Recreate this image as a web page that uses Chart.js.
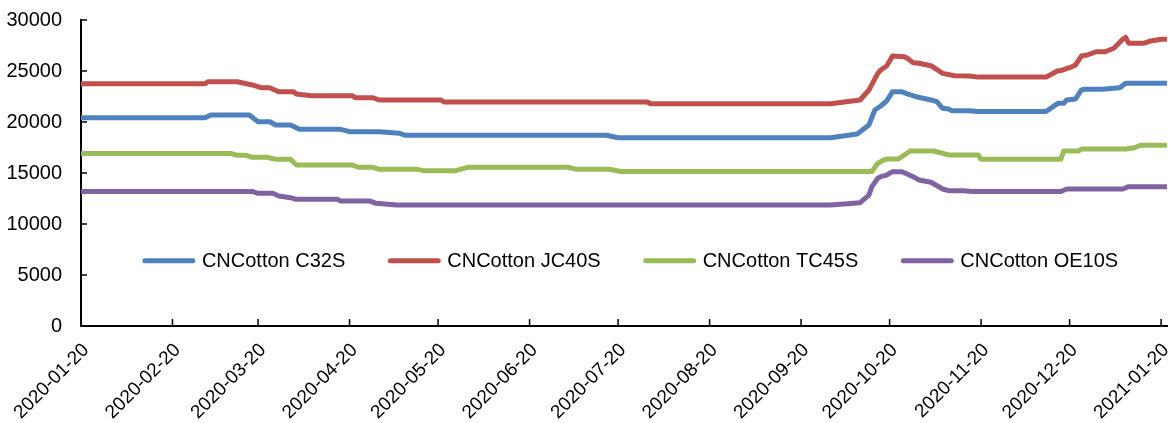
<!DOCTYPE html>
<html><head><meta charset="utf-8">
<script src="https://cdn.jsdelivr.net/npm/chart.js@4/dist/chart.umd.min.js"></script>
<style>html,body{margin:0;padding:0;background:#fff;}canvas{display:block;}</style>
</head><body>
<canvas id="c" width="1171" height="423"></canvas>
<script>
// ---- data ----
const tickLabels = ['2020-01-20','2020-02-20','2020-03-20','2020-04-20','2020-05-20','2020-06-20','2020-07-20','2020-08-20','2020-09-20','2020-10-20','2020-11-20','2020-12-20','2021-01-20'];
const yTicks = [0,5000,10000,15000,20000,25000,30000];
const seriesNames = ['CNCotton C32S','CNCotton JC40S','CNCotton TC45S','CNCotton OE10S'];

const c32Dates = ['2020-01-20','2020-03-02','2020-03-04','2020-03-17','2020-03-20','2020-03-24','2020-03-26','2020-03-31','2020-04-03','2020-04-17','2020-04-20','2020-04-30','2020-05-07','2020-05-09','2020-07-16','2020-07-20','2020-09-30','2020-10-09','2020-10-13','2020-10-15','2020-10-17','2020-10-19','2020-10-21','2020-10-24','2020-10-26','2020-10-29','2020-11-03','2020-11-05','2020-11-07','2020-11-09','2020-11-10','2020-11-16','2020-11-19','2020-12-12','2020-12-16','2020-12-18','2020-12-19','2020-12-22','2020-12-24','2020-12-25','2020-12-31','2021-01-06','2021-01-08','2021-01-22'];
const c32Values = [20420,20420,20690,20690,20030,20030,19710,19710,19280,19280,19050,19050,18890,18700,18700,18460,18460,18820,19710,21180,21570,22060,22970,22970,22750,22480,22160,21990,21340,21270,21110,21110,21030,21030,21830,21830,22160,22260,23140,23210,23210,23360,23790,23790];

const jc40Dates = ['2020-01-20','2020-03-02','2020-03-03','2020-03-13','2020-03-18','2020-03-21','2020-03-24','2020-03-27','2020-04-01','2020-04-02','2020-04-07','2020-04-21','2020-04-22','2020-04-28','2020-04-30','2020-05-21','2020-05-22','2020-07-30','2020-07-31','2020-09-30','2020-10-10','2020-10-13','2020-10-16','2020-10-17','2020-10-19','2020-10-21','2020-10-25','2020-10-26','2020-10-28','2020-10-30','2020-11-03','2020-11-07','2020-11-11','2020-11-16','2020-11-19','2020-12-12','2020-12-16','2020-12-17','2020-12-20','2020-12-22','2020-12-24','2020-12-26','2020-12-29','2021-01-01','2021-01-04','2021-01-07','2021-01-08','2021-01-09','2021-01-14','2021-01-16','2021-01-20','2021-01-22'];
const jc40Values = [23750,23750,23950,23950,23630,23360,23360,22970,22970,22750,22580,22580,22380,22380,22160,22160,21960,21960,21790,21790,22160,23140,24770,25100,25490,26470,26400,26250,25810,25760,25520,24770,24540,24510,24400,24400,25030,25030,25320,25590,26470,26570,26890,26890,27230,28110,28300,27720,27720,27910,28110,28110];

const tc45Dates = ['2020-01-20','2020-03-11','2020-03-13','2020-03-16','2020-03-18','2020-03-23','2020-03-26','2020-03-31','2020-04-02','2020-04-21','2020-04-23','2020-04-28','2020-04-30','2020-05-13','2020-05-15','2020-05-26','2020-05-30','2020-07-03','2020-07-06','2020-07-17','2020-07-21','2020-10-14','2020-10-16','2020-10-18','2020-10-19','2020-10-23','2020-10-27','2020-11-04','2020-11-09','2020-11-19','2020-11-20','2020-12-17','2020-12-18','2020-12-23','2020-12-24','2021-01-08','2021-01-11','2021-01-13','2021-01-22'];
const tc45Values = [16910,16910,16730,16730,16540,16540,16340,16340,15780,15780,15560,15560,15360,15360,15230,15230,15560,15560,15360,15360,15150,15150,15950,16270,16370,16370,17160,17160,16770,16770,16340,16340,17160,17160,17350,17350,17480,17720,17720];

const oe10Dates = ['2020-01-20','2020-03-18','2020-03-20','2020-03-25','2020-03-27','2020-03-31','2020-04-02','2020-04-16','2020-04-17','2020-04-27','2020-04-29','2020-05-06','2020-09-30','2020-10-10','2020-10-13','2020-10-14','2020-10-16','2020-10-17','2020-10-19','2020-10-21','2020-10-24','2020-10-26','2020-10-29','2020-10-30','2020-11-03','2020-11-07','2020-11-09','2020-11-14','2020-11-17','2020-12-17','2020-12-19','2021-01-07','2021-01-09','2021-01-22'];
const oe10Values = [13190,13190,13010,13010,12750,12580,12420,12420,12250,12250,12030,11860,11860,12090,12840,13660,14480,14640,14800,15130,15130,14900,14480,14310,14090,13430,13270,13270,13190,13190,13430,13430,13660,13660];

const seriesColors = ['#4F81BD','#C0504D','#9BBB59','#8064A2'];
const axisEnd = '2021-01-22';

// ---- helpers ----
const t0 = Date.UTC(2020,0,20);
function dayOf(s){const p=s.split('-').map(Number);return (Date.UTC(p[0],p[1]-1,p[2])-t0)/86400000;}
function pts(dates, vals){return dates.map((d,i)=>({x:dayOf(d), y:vals[i]}));}

const FONT = "'Liberation Sans', Arial, sans-serif";
Chart.defaults.font.family = FONT;
Chart.defaults.color = '#000';

const inwardTicks = {
  id:'inwardTicks',
  afterDraw(chart){
    const {ctx, chartArea:a, scales:{x,y}} = chart;
    ctx.save(); ctx.strokeStyle='#000'; ctx.lineWidth=1.5;
    ctx.beginPath();
    x.ticks.forEach(t=>{const px=x.getPixelForValue(t.value); ctx.moveTo(px,a.bottom); ctx.lineTo(px,a.bottom-7);});
    y.ticks.forEach(t=>{const py=y.getPixelForValue(t.value); ctx.moveTo(a.left,py); ctx.lineTo(a.left+6,py);});
    ctx.stroke(); ctx.restore();
  }
};

const insideLegend = {
  id:'insideLegend',
  afterDraw(chart){
    const {ctx, chartArea:a} = chart;
    const ds = chart.data.datasets;
    ctx.save();
    ctx.font = "20px " + FONT;
    const lineW = 52, gap = 7, itemGap = 43;
    const widths = ds.map(d=>ctx.measureText(d.label).width);
    const total = widths.reduce((s,w)=>s+lineW+gap+w,0) + itemGap*(ds.length-1);
    let x = a.left + 0.506*a.width - total/2;
    const yy = a.top + 0.787*a.height;
    ds.forEach((d,i)=>{
      ctx.strokeStyle = d.borderColor; ctx.lineWidth = 5; ctx.lineCap='round';
      ctx.beginPath(); ctx.moveTo(x+2,yy); ctx.lineTo(x+lineW-2,yy); ctx.stroke();
      ctx.fillStyle='#000'; ctx.textBaseline='middle'; ctx.textAlign='left';
      ctx.fillText(d.label, x+lineW+gap, yy+1);
      x += lineW + gap + widths[i] + itemGap;
    });
    ctx.restore();
  }
};

const allDates = [c32Dates, jc40Dates, tc45Dates, oe10Dates];
const allValues = [c32Values, jc40Values, tc45Values, oe10Values];

new Chart(document.getElementById('c'), {
  type:'line',
  data:{ datasets: seriesNames.map((n,i)=>({
    label:n, data: pts(allDates[i], allValues[i]),
    borderColor: seriesColors[i], backgroundColor: seriesColors[i],
    borderWidth:5, pointRadius:0, tension:0, borderJoinStyle:'round', borderCapStyle:'round'
  }))},
  options:{
    responsive:false, animation:false, devicePixelRatio:1,
    layout:{padding:{top:20,right:4,left:0,bottom:0}},
    plugins:{legend:{display:false}, tooltip:{enabled:false}},
    scales:{
      x:{ type:'linear', min:0, max:dayOf(axisEnd),
        afterBuildTicks:s=>{s.ticks = tickLabels.map(l=>({value:dayOf(l)}));},
        afterFit:s=>{s.height=97; s.paddingLeft=0; s.paddingRight=0;},
        grid:{display:false},
        border:{display:true,color:'#000',width:2},
        ticks:{autoSkip:false,minRotation:45,maxRotation:45,padding:5,labelOffset:5,color:'#000',font:{size:19},
          callback:(v,i)=>tickLabels[i]}
      },
      y:{ min:0, max:30000,
        afterBuildTicks:s=>{s.ticks = yTicks.map(v=>({value:v}));},
        afterFit:s=>{s.width=81; s.paddingTop=0; s.paddingBottom=0;},
        grid:{display:false},
        border:{display:true,color:'#000',width:2},
        ticks:{padding:11,color:'#000',font:{size:20},callback:v=>String(v)}
      }
    }
  },
  plugins:[inwardTicks, insideLegend]
});
</script>
</body></html>
